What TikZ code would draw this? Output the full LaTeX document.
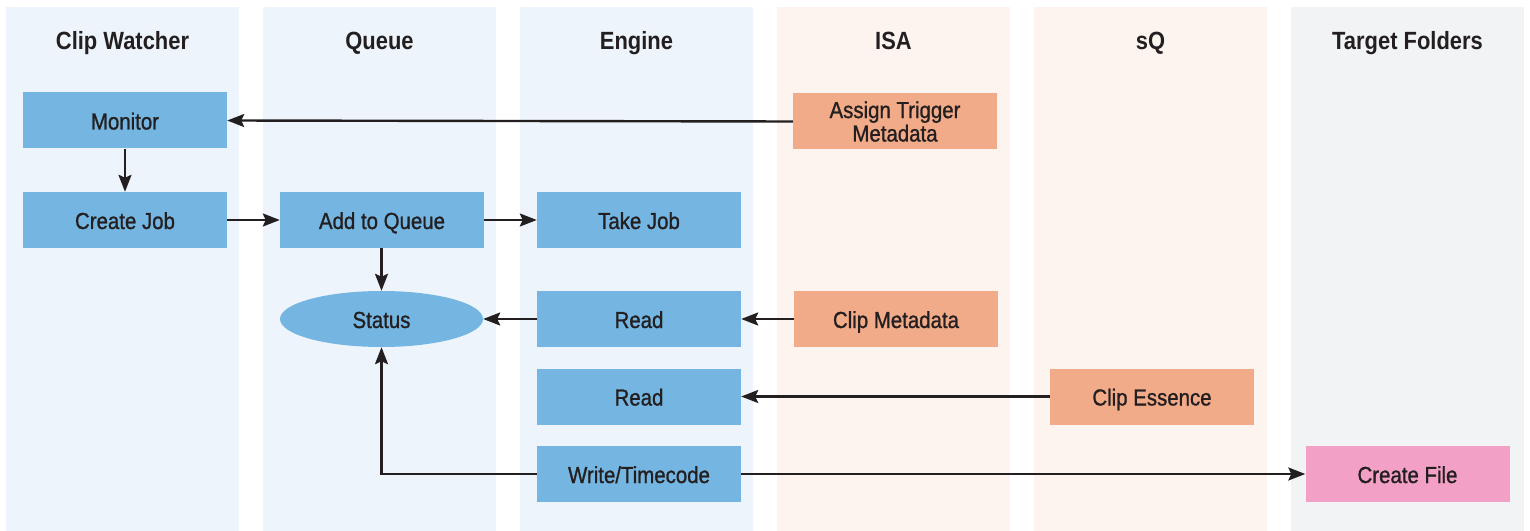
\documentclass[tikz,border=0pt]{standalone}
\usepackage{fontspec}
\setmainfont{Liberation Sans}[FakeStretch=0.88]
\newfontfamily\boxfont{Liberation Sans}[FakeStretch=0.88,FakeBold=1]
\usetikzlibrary{arrows.meta,shapes.geometric}
\definecolor{laneblue}{HTML}{EDF4FB}
\definecolor{lanepeach}{HTML}{FDF4EF}
\definecolor{lanegrey}{HTML}{F1F3F5}
\definecolor{boxblue}{HTML}{74B6E1}
\definecolor{boxorange}{HTML}{F2AB88}
\definecolor{boxpink}{HTML}{F2A0C6}
\definecolor{ink}{HTML}{231F20}
\tikzset{
  header/.style={font=\fontsize{25}{28}\selectfont\bfseries, text=ink, text height=18bp, text depth=5bp, inner sep=0pt},
  boxtext/.style={font=\boxfont\fontsize{23.3}{25}\selectfont, text=ink},
  stepbox/.style={rectangle, minimum width=204bp, minimum height=56bp, inner sep=0pt,
    boxtext, align=center},
  single/.style={text height=20bp, text depth=2bp},
  bluebox/.style={stepbox, single, fill=boxblue},
  orangebox/.style={stepbox, fill=boxorange},
  pinkbox/.style={stepbox, single, fill=boxpink},
  conn/.style={draw=ink, line width=2.4bp, -{Stealth[length=17bp,width=13bp,inset=3bp]}}
}
\begin{document}
\begin{tikzpicture}[x=1bp,y=-1bp]
\useasboundingbox (0,0) rectangle (1530,531);
\fill[white] (0,0) rectangle (1530,531);
% lanes
\fill[laneblue] (6,7) rectangle (239,531);
\fill[laneblue] (263,7) rectangle (496,531);
\fill[laneblue] (520,7) rectangle (753,531);
\fill[lanepeach] (777,7) rectangle (1010,531);
\fill[lanepeach] (1034,7) rectangle (1267,531);
\fill[lanegrey] (1291,7) rectangle (1524,531);
% headers
\node[header] (h1) at (122.5,43.5) {Clip Watcher};
\node[header] (h2) at (379.5,43.5) {Queue};
\node[header] (h3) at (636.5,43.5) {Engine};
\node[header] (h4) at (893.5,43.5) {ISA};
\node[header] (h5) at (1150.5,43.5) {sQ};
\node[header] (h6) at (1407.5,43.5) {Target Folders};
% nodes
\node[bluebox] (monitor) at (125,120.5) {Monitor};
\node[bluebox] (createjob) at (125,220) {Create Job};
\node[bluebox] (addq) at (382,220) {Add to Queue};
\node[bluebox] (takejob) at (639,220) {Take Job};
\node[ellipse, fill=boxblue, minimum width=203bp, minimum height=56bp, inner sep=0pt,
      boxtext, single] (status) at (381.5,319) {Status};
\node[bluebox] (read1) at (639,319) {Read};
\node[bluebox] (read2) at (639,396.5) {Read};
\node[bluebox] (write) at (639,474) {Write/Timecode};
\node[orangebox] (assign) at (895,121.5) {Assign Trigger\\[-1.5bp]Metadata};
\node[orangebox, single] (clipmeta) at (896,319) {Clip Metadata};
\node[orangebox, single] (essence) at (1152,396.5) {Clip Essence};
\node[pinkbox] (createfile) at (1407.5,474) {Create File};
% connectors
\draw[conn] (assign.west) -- (monitor.east);
\draw[conn] (monitor.south) -- (createjob.north);
\draw[conn] (createjob.east) -- (addq.west);
\draw[conn] (addq.east) -- (takejob.west);
\draw[conn] (addq.south -| status.north) -- (status.north);
\draw[conn] (read1.west) -- (status.east);
\draw[conn] (clipmeta.west) -- (read1.east);
\draw[conn] (essence.west) -- (read2.east);
\draw[conn] (write.west) -| (status.south);
\draw[conn] (write.east) -- (createfile.west);
\end{tikzpicture}
\end{document}
